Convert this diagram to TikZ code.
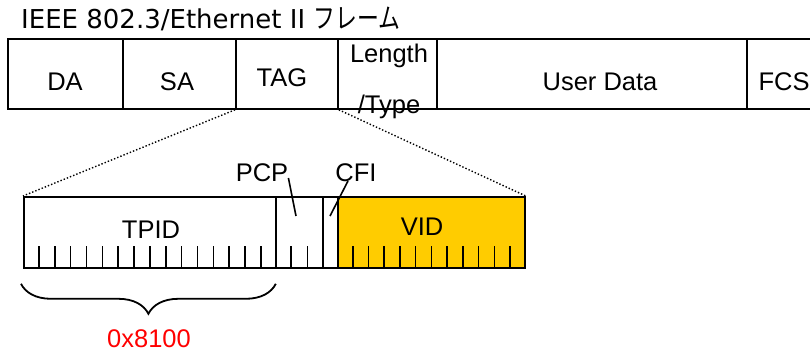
\documentclass[tikz,border=0pt]{standalone}
\usepackage{fontspec}
\setmainfont{Liberation Sans}
\newfontfamily\titlefont{DejaVu Sans}
\newfontfamily\jpfont[FakeStretch=0.78]{Noto Sans CJK JP}
\usetikzlibrary{calc,decorations.pathreplacing}
\definecolor{vidcolor}{HTML}{FFCC00}
\newcommand{\lblsize}{\fontsize{25.5}{30}\selectfont}

\begin{document}
\begin{tikzpicture}[x=1pt,y=-1pt,
    field/.style={draw,line width=1.8pt,minimum height=70pt,inner sep=0pt,anchor=north west},
    bitfield/.style={field,minimum height=71pt},
    lbl/.style={anchor=base,inner sep=1pt,font=\lblsize},
    tick/.style={line width=1.6pt},
    zoomline/.style={dotted,line width=1.4pt}]
  \useasboundingbox (0,0) rectangle (810,352);
  % Ethernet frame
  \node[anchor=base west,inner sep=0pt,font=\fontsize{26}{30}\selectfont] (title) at (21,29)
    {\titlefont IEEE 802.3/Ethernet II {\jpfont\fontsize{28}{30}\selectfont フレーム}};
  \node[field,minimum width=115pt] (da) at (7,38) {};
  \node[field,minimum width=113pt] (sa) at (122,38) {};
  \node[field,minimum width=102pt] (tag) at (235,38) {};
  \node[field,minimum width=99pt] (lentype) at (337,38) {};
  \node[field,minimum width=310pt] (data) at (436,38) {};
  \node[field,minimum width=80pt] (fcs) at (746,38) {};
  \node[lbl] (datxt) at (65,91) {DA};
  \node[lbl] (satxt) at (177,91) {SA};
  \node[lbl] (tagtxt) at (282,87) {TAG};
  \node[align=center,inner sep=0pt,font=\fontsize{25.5}{51}\selectfont] (lentxt) at (389,81) {Length\\/Type};
  \node[lbl] (datatxt) at (600,91) {User Data};
  \node[lbl] (fcstxt) at (784,91) {FCS};
  % 802.1Q tag
  \node[bitfield,minimum width=252pt] (tpid) at (23,196) {};
  \node[bitfield,minimum width=47pt] (pcp) at (275,196) {};
  \node[bitfield,minimum width=15pt] (cfi) at (322,196) {};
  \node[bitfield,minimum width=187pt,fill=vidcolor] (vid) at (337,196) {};
  \foreach \f/\n [evaluate=\n as \m using int(\n-1)] in {tpid/16,pcp/3,vid/12}
    \foreach \k in {1,...,\m}
      \draw[tick] ($(\f.south west)!\k/\n!(\f.south east)$) -- ++(0,-23);
  \node[lbl] (tpidtxt) at (151,239) {TPID};
  \node[lbl] (vidtxt) at (422,236) {VID};
  \node[lbl] (pcptxt) at (262,182) {PCP};
  \node[lbl] (cfitxt) at (356,182) {CFI};
  \coordinate (pcpend) at (296,216);
  \coordinate (cfiend) at (330,216);
  \draw[tick] ([xshift=-1pt,yshift=4pt]pcptxt.base east) -- (pcpend);
  \draw[tick] ([xshift=-8pt,yshift=1pt]cfitxt.base) -- (cfiend);
  \draw[zoomline] (tag.south west) -- (tpid.north west);
  \draw[zoomline] (tag.south east) -- (vid.north east);
  \draw[line width=1.8pt,decorate,decoration={brace,amplitude=30pt}]
    ([xshift=-1pt,yshift=-15pt]tpid.south east) -- ([xshift=-2pt,yshift=-15pt]tpid.south west);
  \node[lbl,text=red] (tpidval) at (149,347) {0x8100};
\end{tikzpicture}
\end{document}
